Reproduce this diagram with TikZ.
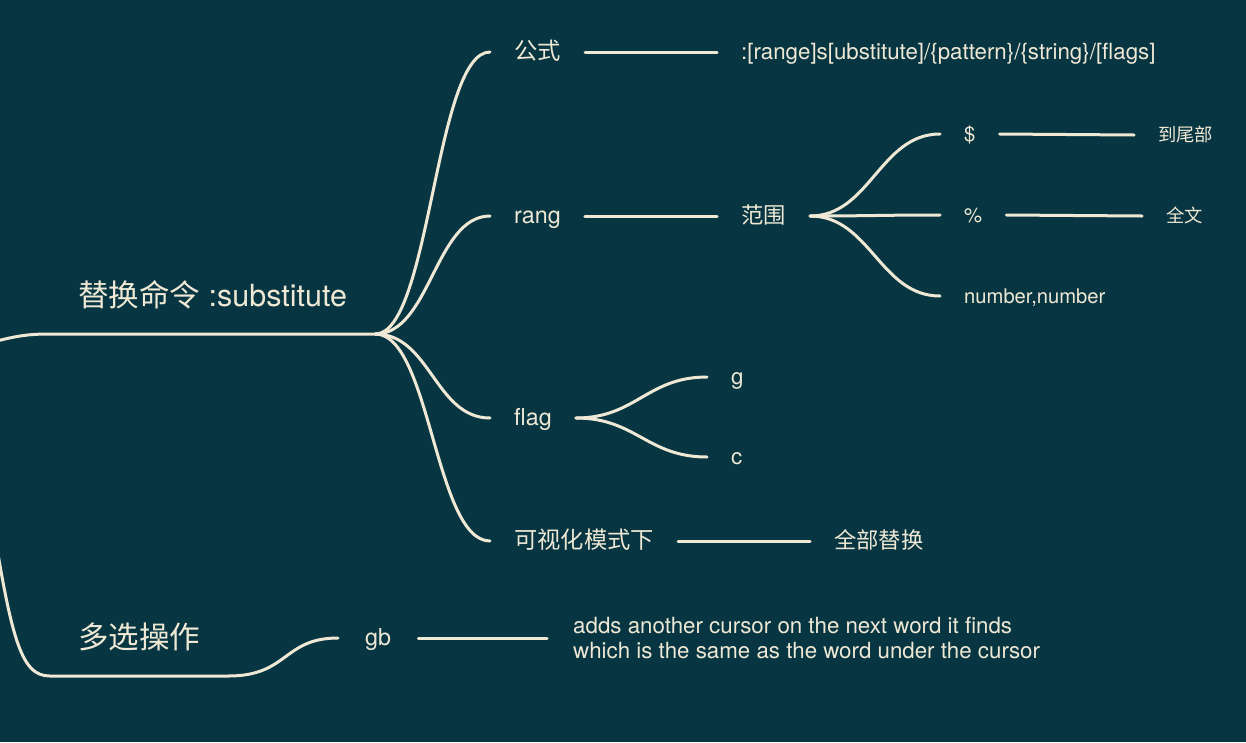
\documentclass[tikz,border=0pt]{standalone}
\usepackage{fontspec}
\setmainfont{TeX Gyre Heros}
\newfontfamily\cjk{Noto Sans CJK SC}
\definecolor{bgteal}{HTML}{073642}
\definecolor{cream}{HTML}{EEE8D5}
\tikzset{
  branch/.style={draw=cream, line width=3pt, line cap=round},
  maintopic/.style={text=cream, font=\fontsize{30.5}{36}\selectfont,
    inner xsep=28pt, inner ysep=0pt, text depth=27pt, anchor=south west},
  topic/.style={text=cream, inner xsep=24pt, inner ysep=0pt, anchor=west},
  subtopic/.style={topic, font=\fontsize{23.3}{28}\selectfont,
    text height=18pt, text depth=3pt},
  subsubtopic/.style={topic, font=\fontsize{22.3}{25}\selectfont,
    text height=18pt, text depth=4pt},
  leaftopic/.style={topic, font=\fontsize{20.2}{24}\selectfont,
    text height=17pt, text depth=3pt},
  tinytopic/.style={topic, font=\fontsize{18.3}{22}\selectfont,
    text height=16pt, text depth=3pt},
}

\begin{document}
\begin{tikzpicture}[x=1pt, y=-1pt]
    \fill[bgteal] (0,0) rectangle (1246,742);
    \clip (0,0) rectangle (1246,742);
    \useasboundingbox (0,0) rectangle (1246,742);

    % main topics
    \node[maintopic] (subst) at (50,334) {{\cjk 替换命令} :substitute};
    \node[maintopic] (multi) at (50,676) {{\cjk 多选操作}};
    \coordinate (rootup) at (-40,352);
    \coordinate (rootdown) at (-15,470);

    % second level
    \node[subtopic] (gongshi) at (490,52) {{\cjk 公式}};
    \node[subtopic] (rang) at (490,216) {rang};
    \node[subtopic] (flag) at (490,418) {flag};
    \node[subtopic] (keshi) at (490,541) {{\cjk 可视化模式下}};
    \node[subtopic, inner xsep=27pt] (gb) at (338,638) {gb};

    % third level
    \node[subsubtopic] (syntax) at (717,52)
      {:[range]s[ubstitute]/\{pattern\}/\{string\}/[flags]};
    \node[subsubtopic] (fanwei) at (717,216) {{\cjk 范围}};
    \node[subsubtopic] (gflag) at (707,377) {g};
    \node[subsubtopic] (cflag) at (707,457) {c};
    \node[subsubtopic] (quanbu) at (810,541) {{\cjk 全部替换}};
    \node[topic, font=\fontsize{22.3}{25}\selectfont, align=left, inner xsep=26pt]
      (desc) at (547,638)
      {adds another cursor on the next word it finds\\
       which is the same as the word under the cursor};

    % range values
    \node[leaftopic] (dollar) at (940,134) {\$};
    \node[leaftopic] (percent) at (940,215) {\%};
    \node[leaftopic] (numnum) at (940,296) {number,number};
    \node[tinytopic] (daowei) at (1134,135) {{\cjk 到尾部}};
    \node[tinytopic] (quanwen) at (1142,216) {{\cjk 全文}};

    % root branches and underlines
    \draw[branch] (rootup) .. controls (10,336) and (25,334) .. (subst.south west)
      -- (subst.south east);
    \draw[branch] (rootdown) .. controls (10,640) and (20,676) .. (multi.south west)
      -- (multi.south east);

    % curved branches
    \foreach \child in {gongshi,rang,flag,keshi}
      \draw[branch] (subst.south east) .. controls +(55,0) and +(-55,0) .. (\child.west);
    \foreach \child in {dollar,percent,numnum}
      \draw[branch] (fanwei.east) .. controls +(60,0) and +(-60,0) .. (\child.west);
    \foreach \child in {gflag,cflag}
      \draw[branch] (flag.east) .. controls +(60,0) and +(-60,0) .. (\child.west);
    \draw[branch] (multi.south east) .. controls +(60,0) and +(-55,0) .. (gb.west);

    % straight links
    \draw[branch] (gongshi.east) -- (syntax.west);
    \draw[branch] (rang.east) -- (fanwei.west);
    \draw[branch] (keshi.east) -- (quanbu.west);
    \draw[branch] (gb.east) -- (desc.west);
    \draw[branch] (dollar.east) -- (daowei.west);
    \draw[branch] (percent.east) -- (quanwen.west);
\end{tikzpicture}
\end{document}
